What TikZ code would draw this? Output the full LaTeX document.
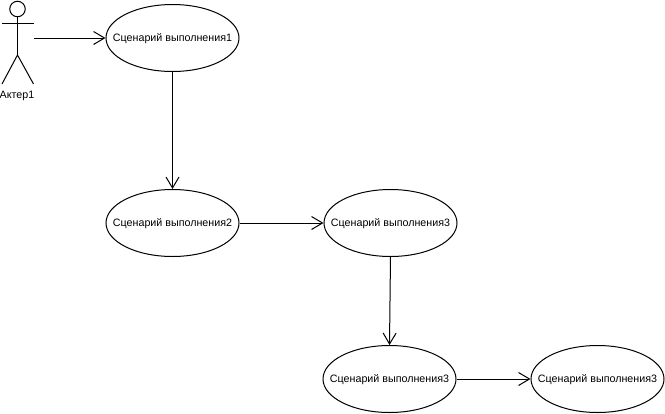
\documentclass[tikz,border=0pt]{standalone}
\usepackage{fontspec}
\setmainfont{Liberation Sans}
\usetikzlibrary{arrows.meta,shapes.geometric}
\tikzset{
  usecase/.style={draw=black,line width=1pt,shape=ellipse,minimum width=133pt,minimum height=67pt,inner xsep=-15pt,inner ysep=0pt,text depth=0pt,font=\fontsize{10.7pt}{13pt}\selectfont},
  flow/.style={draw=black,line width=1pt,-{Straight Barb[length=11pt,width=13pt,line width=1pt]}},
  limb/.style={draw=black,line width=1pt}
}
\begin{document}
\begin{tikzpicture}[x=1pt,y=-1pt]
\useasboundingbox (0,0) rectangle (665,413);
% use cases
\node[usecase] (uc1) at (172.5,38) {Сценарий выполнения1};
\node[usecase] (uc2) at (172.5,223) {Сценарий выполнения2};
\node[usecase] (uc3) at (390.5,223) {Сценарий выполнения3};
\node[usecase] (uc4) at (389.5,379) {Сценарий выполнения3};
\node[usecase] (uc5) at (597.5,379) {Сценарий выполнения3};
% actor figure
\node[draw=black,line width=1pt,circle,minimum size=15.5pt,inner sep=0pt] (head) at (17.5,9) {};
\coordinate (hip) at (17.5,55);
\coordinate (armL) at (2,23.5);
\coordinate (armR) at (33.5,23.5);
\coordinate (footL) at (2,84);
\coordinate (footR) at (33.5,84);
\draw[limb] (head.south) -- (hip);
\draw[limb] (armL) -- (armR);
\draw[limb] (footL) -- (hip) -- (footR);
\node[font=\fontsize{10.7pt}{13pt}\selectfont,inner sep=0pt] (actorname) at (17,95.5) {Актер1};
% connectors
\coordinate (actorhand) at (34,38);
\draw[flow] (actorhand) -- (uc1.west);
\draw[flow] (uc1.south) -- (uc2.north);
\draw[flow] (uc2.east) -- (uc3.west);
\draw[flow] (uc3.south) -- (uc4.north);
\draw[flow] (uc4.east) -- (uc5.west);
\end{tikzpicture}
\end{document}
